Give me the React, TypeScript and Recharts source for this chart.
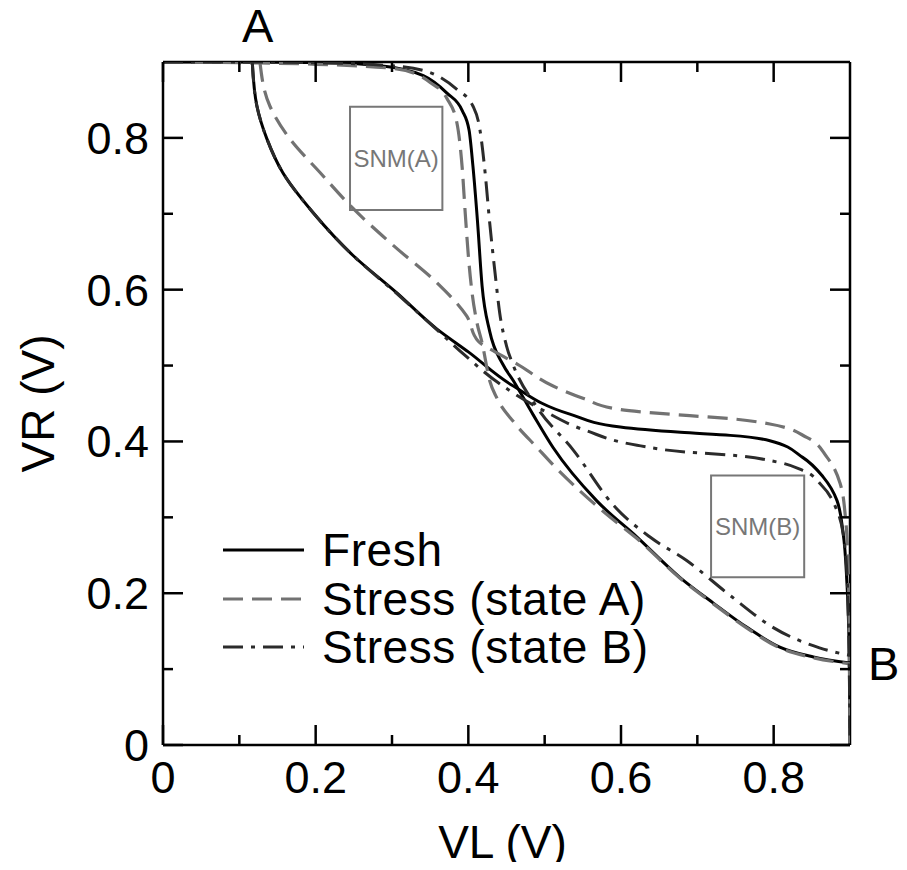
import React from 'react';
import { LineChart, Line, XAxis, YAxis, ReferenceLine, ReferenceArea, ReferenceDot, Legend, Label } from 'recharts';

type Pt = [number, number];

// Curve 1 of each butterfly (VR as a function of VL)
const freshSteep: Pt[] = [
  [0, 0.9], [0.1, 0.9], [0.219, 0.899], [0.284, 0.895], [0.341, 0.882], [0.372, 0.859], [0.392, 0.836],
  [0.401, 0.81], [0.406, 0.763], [0.412, 0.69], [0.418, 0.605], [0.428, 0.545], [0.445, 0.502], [0.459, 0.48],
  [0.485, 0.435], [0.511, 0.392], [0.568, 0.322], [0.621, 0.274], [0.677, 0.221], [0.721, 0.187], [0.765, 0.155],
  [0.808, 0.129], [0.852, 0.116], [0.9, 0.108],
];
const stressASteep: Pt[] = [
  [0, 0.9], [0.1, 0.899], [0.2, 0.897], [0.306, 0.891], [0.35, 0.873], [0.372, 0.852], [0.385, 0.82],
  [0.392, 0.76], [0.396, 0.7], [0.4, 0.645], [0.405, 0.595], [0.411, 0.558], [0.418, 0.53], [0.428, 0.48],
  [0.437, 0.458], [0.46, 0.425], [0.49, 0.392], [0.515, 0.365], [0.546, 0.335], [0.58, 0.305], [0.621, 0.272],
  [0.677, 0.22], [0.721, 0.186], [0.765, 0.154], [0.808, 0.128], [0.852, 0.115], [0.9, 0.107],
];
const stressBSteep: Pt[] = [
  [0, 0.9], [0.1, 0.9], [0.2, 0.899], [0.3, 0.895], [0.35, 0.886], [0.385, 0.864], [0.406, 0.842],
  [0.415, 0.812], [0.422, 0.754], [0.428, 0.688], [0.435, 0.622], [0.441, 0.57], [0.45, 0.526], [0.459, 0.5],
  [0.49, 0.445], [0.538, 0.388], [0.59, 0.316], [0.638, 0.274], [0.686, 0.243], [0.743, 0.197], [0.799, 0.155],
  [0.86, 0.128], [0.9, 0.118],
];

// Curve 2 of each butterfly (mirrored transfer curve)
const freshFlat: Pt[] = [
  [0.117, 0.9], [0.123, 0.842], [0.136, 0.799], [0.157, 0.754], [0.197, 0.701], [0.249, 0.645], [0.306, 0.596],
  [0.359, 0.548], [0.4, 0.518], [0.459, 0.473], [0.533, 0.436], [0.599, 0.419], [0.678, 0.412], [0.743, 0.408],
  [0.795, 0.401], [0.838, 0.379], [0.865, 0.353], [0.883, 0.322], [0.891, 0.279], [0.896, 0.213], [0.899, 0.12],
  [0.9, 0],
];
const stressAFlat: Pt[] = [
  [0.127, 0.9], [0.14, 0.842], [0.166, 0.799], [0.206, 0.754], [0.249, 0.707], [0.302, 0.658], [0.359, 0.609],
  [0.398, 0.565], [0.413, 0.532], [0.435, 0.518], [0.464, 0.502], [0.511, 0.473], [0.55, 0.457], [0.599, 0.442],
  [0.69, 0.434], [0.743, 0.43], [0.795, 0.423], [0.844, 0.405], [0.87, 0.379], [0.887, 0.345], [0.894, 0.3],
  [0.898, 0.22], [0.9, 0],
];
const stressBFlat: Pt[] = [
  [0.117, 0.9], [0.123, 0.842], [0.136, 0.799], [0.157, 0.754], [0.197, 0.701], [0.249, 0.645], [0.306, 0.595],
  [0.359, 0.547], [0.395, 0.514], [0.441, 0.476], [0.498, 0.441], [0.555, 0.414], [0.621, 0.395], [0.686, 0.386],
  [0.743, 0.382], [0.804, 0.373], [0.838, 0.362], [0.863, 0.342], [0.883, 0.309], [0.891, 0.279], [0.897, 0.2],
  [0.9, 0],
];

const seriesNames = ['Fresh', 'Stress (state A)', 'Stress (state B)'];
const xTicks = [0, 0.1, 0.2, 0.3, 0.4, 0.5, 0.6, 0.7, 0.8];
const yTicks = [0, 0.1, 0.2, 0.3, 0.4, 0.5, 0.6, 0.7, 0.8];
const xLabel = 'VL (V)';
const yLabel = 'VR (V)';
const snmBoxes = [
  { label: 'SNM(A)', x1: 0.245, x2: 0.366, y1: 0.705, y2: 0.841 },
  { label: 'SNM(B)', x1: 0.718, x2: 0.84, y1: 0.221, y2: 0.355 },
];
const pointLabels = [
  { text: 'A', x: 0.124, y: 0.9 },
  { text: 'B', x: 0.9, y: 0.108 },
];

const FONT = '"Liberation Sans", Arial, Helvetica, sans-serif';
const W = 890;
const H = 870;
const PLOT_W = 687;
const PLOT_H = 683;
const STYLES = [
  { stroke: '#000000', dash: undefined as string | undefined, width: 3 },
  { stroke: '#727272', dash: '20 9', width: 3.2 },
  { stroke: '#2b2b2b', dash: '20 8 4 8', width: 3 },
];

const toObj = (pts: Pt[]) => pts.map(([x, y]) => ({ x, y }));
const fmt = (v: number) => (v === 0 ? '0' : v.toFixed(1));
const isMajor = (v: number) => Math.round(v * 10) % 2 === 0;

const XTick = (props: any) => {
  const { x, y, payload } = props;
  const v = payload.value;
  const major = isMajor(v);
  const len = major ? 20 : 10;
  return (
    <g>
      <line x1={x} x2={x} y1={y} y2={y - len} stroke="#000" strokeWidth={2.5} />
      <line x1={x} x2={x} y1={y - PLOT_H} y2={y - PLOT_H + len} stroke="#000" strokeWidth={2.5} />
      {major && (
        <text x={x} y={y + 48} textAnchor="middle" fontSize={45} fontFamily={FONT} fill="#000">
          {fmt(v)}
        </text>
      )}
    </g>
  );
};

const YTick = (props: any) => {
  const { x, y, payload } = props;
  const v = payload.value;
  const major = isMajor(v);
  const len = major ? 20 : 10;
  return (
    <g>
      <line x1={x} x2={x + len} y1={y} y2={y} stroke="#000" strokeWidth={2.5} />
      <line x1={x + PLOT_W} x2={x + PLOT_W - len} y1={y} y2={y} stroke="#000" strokeWidth={2.5} />
      {major && (
        <text x={x - 14} y={y + 16} textAnchor="end" fontSize={45} fontFamily={FONT} fill="#000">
          {fmt(v)}
        </text>
      )}
    </g>
  );
};

const renderLegend = () => (
  <div style={{ fontFamily: FONT }}>
    {seriesNames.map((name, i) => (
      <div key={name} style={{ display: 'flex', alignItems: 'center', height: 48.5 }}>
        <svg width={84} height={20} style={{ display: 'block' }}>
          <line
            x1={1}
            x2={82}
            y1={10}
            y2={10}
            stroke={STYLES[i].stroke}
            strokeWidth={STYLES[i].width}
            strokeDasharray={STYLES[i].dash}
          />
        </svg>
        <span
          style={{
            marginLeft: 16,
            fontSize: 46,
            lineHeight: '48px',
            letterSpacing: '0.6px',
            color: '#000',
            whiteSpace: 'nowrap',
          }}
        >
          {name}
        </span>
      </div>
    ))}
  </div>
);

const lineSets = [
  { data: freshSteep, style: 0, curve: 'monotoneX' },
  { data: freshFlat, style: 0, curve: 'monotoneY' },
  { data: stressASteep, style: 1, curve: 'monotoneX' },
  { data: stressAFlat, style: 1, curve: 'monotoneY' },
  { data: stressBSteep, style: 2, curve: 'monotoneX' },
  { data: stressBFlat, style: 2, curve: 'monotoneY' },
];

export default function App() {
  return (
    <div style={{ width: W, height: H, marginTop: -8, marginBottom: -8 }}>
      <LineChart width={W} height={H} margin={{ top: 62, right: 48, bottom: 0, left: 0 }}>
        <XAxis
          dataKey="x"
          type="number"
          domain={[0, 0.9]}
          ticks={xTicks}
          interval={0}
          tick={XTick}
          tickLine={false}
          tickSize={0}
          tickMargin={0}
          height={125}
          axisLine={{ stroke: '#000', strokeWidth: 2.5 }}
          allowDataOverflow
        >
          <Label
            content={(p: any) => {
              const vb = p.viewBox;
              return (
                <text x={vb.x + vb.width / 2 - 4} y={vb.y + 113} textAnchor="middle" fontSize={46} fontFamily={FONT} fill="#000">
                  {xLabel}
                </text>
              );
            }}
          />
        </XAxis>
        <YAxis
          dataKey="y"
          type="number"
          domain={[0, 0.9]}
          ticks={yTicks}
          interval={0}
          tick={YTick}
          tickLine={false}
          tickSize={0}
          tickMargin={0}
          width={155}
          axisLine={{ stroke: '#000', strokeWidth: 2.5 }}
          allowDataOverflow
        >
          <Label
            content={(p: any) => {
              const vb = p.viewBox;
              const cx = vb.x + 30;
              const cy = vb.y + vb.height / 2;
              return (
                <text
                  x={cx}
                  y={cy}
                  transform={`rotate(-90 ${cx} ${cy})`}
                  textAnchor="middle"
                  dominantBaseline="central"
                  fontSize={46}
                  fontFamily={FONT}
                  fill="#000"
                >
                  {yLabel}
                </text>
              );
            }}
          />
        </YAxis>
        <ReferenceLine y={0.9} stroke="#000" strokeWidth={2.5} />
        <ReferenceLine x={0.9} stroke="#000" strokeWidth={2.5} />
        {snmBoxes.map((b) => (
          <ReferenceArea
            key={b.label}
            x1={b.x1}
            x2={b.x2}
            y1={b.y1}
            y2={b.y2}
            fill="none"
            fillOpacity={0}
            stroke="#777"
            strokeWidth={2}
            label={{ value: b.label, position: 'center', fill: '#777', fontSize: 24, fontFamily: FONT }}
          />
        ))}
        {lineSets.map((ls, i) => (
          <Line
            key={i}
            data={toObj(ls.data)}
            dataKey="y"
            type={ls.curve as any}
            stroke={STYLES[ls.style].stroke}
            strokeWidth={STYLES[ls.style].width}
            strokeDasharray={STYLES[ls.style].dash}
            dot={false}
            activeDot={false}
            legendType="none"
            isAnimationActive={false}
          />
        ))}
        <ReferenceDot
          x={pointLabels[0].x}
          y={pointLabels[0].y}
          r={0}
          fill="none"
          stroke="none"
          label={{ value: pointLabels[0].text, position: 'top', offset: 20, fontSize: 47, fill: '#000', fontFamily: FONT }}
        />
        <ReferenceDot
          x={pointLabels[1].x}
          y={pointLabels[1].y}
          r={0}
          fill="none"
          stroke="none"
          label={{ value: pointLabels[1].text, position: 'right', offset: 18, fontSize: 47, fill: '#000', fontFamily: FONT }}
        />
        <Legend
          layout="vertical"
          align="center"
          verticalAlign="middle"
          content={renderLegend}
          wrapperStyle={{ left: 214, top: 526, width: 520, height: 150 }}
        />
      </LineChart>
    </div>
  );
}
